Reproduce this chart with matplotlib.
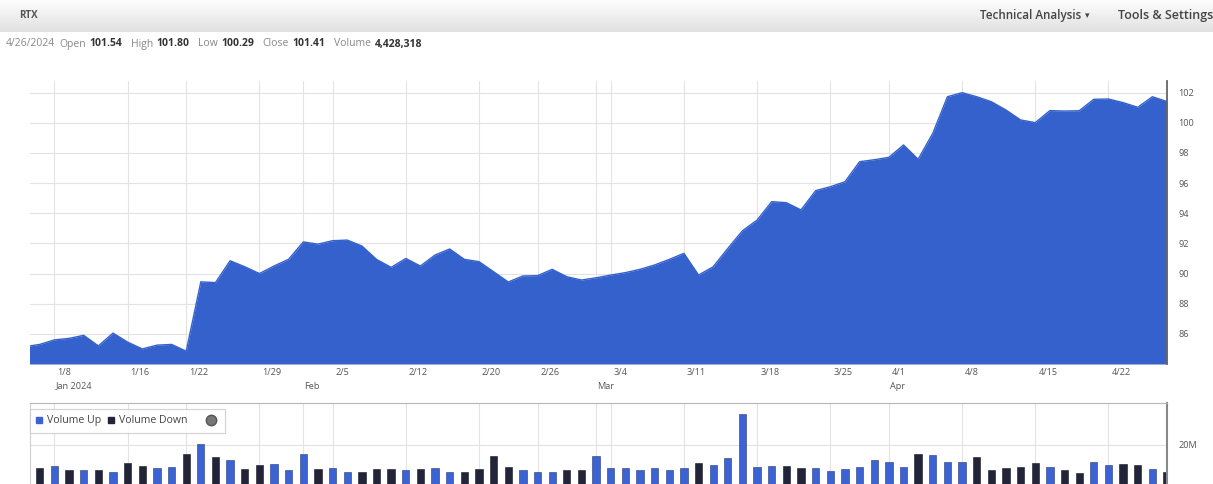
import numpy as np
import pandas as pd
import matplotlib
matplotlib.use("Agg")
import matplotlib.pyplot as plt
from matplotlib.colors import LinearSegmentedColormap
from matplotlib.lines import Line2D
from matplotlib.transforms import ScaledTranslation, blended_transform_factory

# ---------------- data ----------------
ticker = "RTX"
holidays = ["2024-01-01", "2024-01-15", "2024-02-19", "2024-03-29"]
price_start = "2024-01-04"
volume_start = "2024-01-05"
end_date = "2024-04-26"

close_prices = [
    85.15, 85.30, 85.60, 85.70, 85.90, 85.20, 86.05, 85.45, 85.00, 85.25,
    85.30, 84.85, 89.45, 89.40, 90.85, 90.45, 90.00, 90.50, 90.95, 92.10,
    91.95, 92.18, 92.22, 91.83, 90.94, 90.41, 91.00, 90.50, 91.23, 91.63,
    90.94, 90.79, 90.12, 89.44, 89.84, 89.86, 90.28, 89.79, 89.57, 89.72,
    89.90, 90.06, 90.28, 90.57, 90.94, 91.34, 89.90, 90.45, 91.67, 92.84,
    93.55, 94.77, 94.70, 94.22, 95.50, 95.76, 96.09, 97.42, 97.55, 97.71,
    98.53, 97.58, 99.30, 101.73, 102.00, 101.73, 101.40, 100.85, 100.19, 100.01,
    100.81, 100.78, 100.80, 101.56, 101.58, 101.34, 101.03, 101.73, 101.41,
]

volumes_m = [
    7.9, 9.1, 7.1, 7.1, 7.1, 6.2, 10.8, 9.1, 7.9, 8.4,
    15.0, 20.1, 13.8, 12.2, 7.4, 9.6, 10.1, 7.1, 15.0, 7.4,
    7.9, 6.2, 5.9, 7.4, 7.4, 7.1, 7.4, 7.9, 6.2, 6.2,
    7.4, 14.2, 8.8, 7.1, 6.2, 6.2, 7.1, 7.1, 14.2, 7.9,
    7.9, 7.1, 7.9, 7.1, 8.3, 10.8, 9.6, 13.0, 35.4, 8.6,
    9.3, 9.3, 8.3, 8.3, 6.7, 7.5, 8.65, 12.0, 11.1, 8.65,
    15.0, 14.5, 11.1, 11.1, 13.8, 7.0, 8.3, 8.65, 10.8, 8.65,
    7.0, 5.8, 11.1, 9.5, 10.0, 9.5, 7.5, 6.2,
]
volume_dir = list(
    "DUDUDUDDUU" "DUDUDDUUUD" "UUDDDUDUUD" "DDDUUUDDUU"
    "UUUUUDUUUU" "UDDUUUUUUU" "DUUUDDDDDU" "DDUUDDUD"
)

header_values = [("4/26/2024", ""), ("Open", "101.54"), ("High", "101.80"),
                 ("Low", "100.29"), ("Close", "101.41"), ("Volume", "4,428,318")]
price_ticks = [86, 88, 90, 92, 94, 96, 98, 100, 102]
volume_ticks = [20]
volume_tick_labels = ["20M"]
legend_labels = ["Volume Up", "Volume Down"]

# ---------------- derived positions ----------------
days = pd.bdate_range("2024-01-01", end_date)
days = days[~days.isin(pd.to_datetime(holidays))]
pos = pd.Series(np.arange(len(days)), index=days)
p_idx = pos[price_start:].values
v_idx = pos[volume_start:].values

BLUE = "#3461CB"
UP = "#3C63D3"
DOWN = "#22253A"
GRID = "#e3e3e3"
TXT = "#555555"
FONT = ["Open Sans", "DejaVu Sans"]
plt.rcParams["font.family"] = FONT

W, H = 1213, 484
fig = plt.figure(figsize=(W / 100, H / 100), dpi=100)
fx = lambda x: x / W
fy = lambda y: 1 - y / H

# header bar
ax_h = fig.add_axes([0, fy(32), 1, 32 / H])
cm = LinearSegmentedColormap.from_list("hdr", ["#fdfdfd", "#efefef", "#e1e1e1"])
ax_h.imshow(np.linspace(0, 1, 50)[:, None], cmap=cm, aspect="auto")
ax_h.axis("off")
fig.canvas.draw()
r = fig.canvas.get_renderer()
fig.text(fx(19), fy(16), ticker, fontsize=7, fontweight="bold", color="#555", va="center")
t = fig.text(fx(980), fy(16), "Technical Analysis", fontsize=8.4, color="#444", va="center",
             fontweight="semibold")
fig.text(fx(980 + t.get_window_extent(r).width + 4), fy(16), "▾", fontsize=6.5, color="#444",
         va="center", family="DejaVu Sans")
fig.text(fx(1118), fy(16), "Tools & Settings", fontsize=9.0, color="#444", va="center",
         fontweight="semibold")

# info line (laid out sequentially)
xcur = 6
for lab, val in header_values:
    t = fig.text(fx(xcur), fy(44), lab, fontsize=7.5, color="#888", va="center")
    xcur += t.get_window_extent(r).width + 4
    if val:
        t = fig.text(fx(xcur), fy(44), val, fontsize=7.5, color="#333", va="center",
                     fontweight="bold")
        xcur += t.get_window_extent(r).width + 8

# ---------------- price panel ----------------
xmin, xmax = 2.33, p_idx[-1]
ymin, ymax = 84.0, 102.8
ax = fig.add_axes([fx(30), fy(364), fx(1167) - fx(30), (364 - 80.6) / H])
ax.fill_between(p_idx, close_prices, ymin, color=BLUE, lw=0, zorder=2)
ax.plot(p_idx, close_prices, color=BLUE, lw=1.0, zorder=3)
ax.set_xlim(xmin, xmax)
ax.set_ylim(ymin, ymax)

# weekly ticks: first trading day of each week
wk = pd.Series(days, index=days).groupby(days.to_period("W")).first()
tick_dates = [d for d in wk if xmin <= pos[d] <= xmax]
tick_pos = [pos[d] for d in tick_dates]
tick_lab = [f"{d.month}/{d.day}" for d in tick_dates]
mo = pd.Series(days, index=days).groupby(days.to_period("M")).first()
month_dates = [d for d in mo if xmin <= pos[d] <= xmax]
month_pos = [pos[d] for d in month_dates]

ax.set_xticks(tick_pos)
ax.set_xticks(month_pos, minor=True)
ax.set_xticklabels(tick_lab, ha="left", fontsize=6.6, color=TXT)
ax.tick_params(axis="x", which="both", length=0, pad=3)
off = ScaledTranslation(3 / 100, 0, fig.dpi_scale_trans)
for lbl in ax.get_xticklabels():
    lbl.set_transform(lbl.get_transform() + off)
ax.grid(axis="x", which="both", color=GRID, lw=0.8, zorder=0)

ax.yaxis.tick_right()
ax.set_yticks(price_ticks)
ax.set_yticklabels([str(v) for v in price_ticks], fontsize=6.6, color=TXT)
ax.tick_params(axis="y", length=0, pad=8)
ax.grid(axis="y", color=GRID, lw=0.8, zorder=0)
ax.set_axisbelow(True)
for s in ("top", "left", "bottom"):
    ax.spines[s].set_visible(False)
ax.spines["right"].set_color("#666")
ax.spines["right"].set_linewidth(1.3)

# month labels
trans = blended_transform_factory(ax.transData, ax.transAxes)
first_tick = tick_pos[0]
month_label_items = [(first_tick, f"{tick_dates[0]:%b %Y}")]
month_label_items += [(pos[d], f"{d:%b}") for d in month_dates if pos[d] > first_tick]
for xp, txt in month_label_items:
    ax.text(xp, -0.078, txt, transform=trans + ScaledTranslation(1 / 100, 0, fig.dpi_scale_trans),
            fontsize=6.6, color=TXT, ha="left", va="center")

# ---------------- volume panel ----------------
axv = fig.add_axes([fx(30), 0, fx(1167) - fx(30), fy(403)])
cols = [UP if d == "U" else DOWN for d in volume_dir]
edges = ["#26367a" if d == "U" else "#15171f" for d in volume_dir]
axv.bar(v_idx, volumes_m, width=0.5, color=cols, edgecolor=edges, linewidth=0.4, zorder=2)
axv.set_xlim(xmin, xmax)
axv.set_ylim(0, (484 - 403) / 1.975)
axv.set_xticks(tick_pos)
axv.set_xticks(month_pos, minor=True)
axv.tick_params(axis="x", which="both", length=0, labelbottom=False)
axv.grid(axis="x", which="both", color=GRID, lw=0.8, zorder=0)
axv.yaxis.tick_right()
axv.set_yticks(volume_ticks)
axv.set_yticklabels(volume_tick_labels, fontsize=6.6, color=TXT)
axv.tick_params(axis="y", length=0, pad=8)
axv.grid(axis="y", color=GRID, lw=0.8, zorder=0)
axv.set_axisbelow(True)
axv.spines["bottom"].set_visible(False)
axv.spines["top"].set_color("#b5b5b5")
axv.spines["left"].set_color("#cfcfcf")
axv.spines["right"].set_color("#888")
axv.spines["right"].set_linewidth(1.5)

handles = [
    Line2D([], [], marker="s", color=UP, markersize=5, linestyle=""),
    Line2D([], [], marker="s", color=DOWN, markersize=5, linestyle=""),
    Line2D([], [], marker="o", color="#777", markersize=7.5, linestyle="",
           markeredgecolor="#555"),
]
leg = axv.legend(handles, [legend_labels[0], legend_labels[1] + "     ", ""], ncol=3,
                 loc="upper left",
                 bbox_to_anchor=(fx(30), fy(409)), bbox_transform=fig.transFigure,
                 borderaxespad=0, frameon=True, fancybox=False, fontsize=7.6,
                 handlelength=0.6, handletextpad=0.45, columnspacing=0.6,
                 borderpad=0.6, labelcolor="#444")
leg.get_frame().set_edgecolor("#c8c8c8")
leg.get_frame().set_linewidth(0.8)

fig.savefig("out.png", dpi=100)
